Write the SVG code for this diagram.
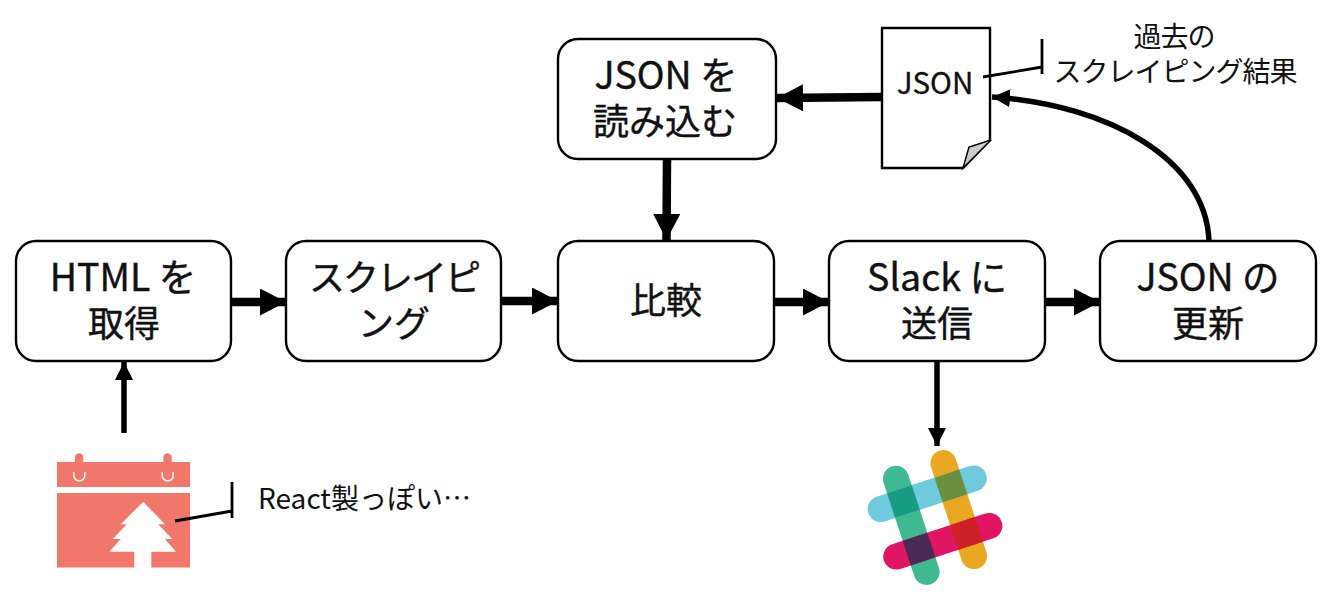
<svg xmlns="http://www.w3.org/2000/svg" width="1344" height="612" viewBox="0 0 1344 612">
<style>
text{font-family:"Noto Sans CJK JP","Noto Sans",sans-serif;fill:#111;text-anchor:middle}
.t{font-size:36px;stroke:#111;stroke-width:.4px}
.l{font-size:37.500px}
.s{font-size:28px;letter-spacing:-1px}
.box{fill:#fff;stroke:#000;stroke-width:2.400}
.thick{fill:none;stroke:#000;stroke-width:8.500}
.mid{fill:none;stroke:#000;stroke-width:5.500}
.thin{fill:none;stroke:#000;stroke-width:2.800}
.cal{fill:#f1776b}
</style>
<defs>
<marker id="ah" markerUnits="userSpaceOnUse" markerWidth="28" markerHeight="28" refX="26" refY="13.500" orient="auto"><path d="M0 0L26 13.500L0 27Z" fill="#000"/></marker>
<marker id="ah2" markerUnits="userSpaceOnUse" markerWidth="20" markerHeight="20" refX="18" refY="9" orient="auto"><path d="M0 0L18 9L0 18Z" fill="#000"/></marker>
</defs>
<g id="connectors">
<path class="thick" d="M231 302H286" marker-end="url(#ah)"/>
<path class="thick" d="M502 301H558" marker-end="url(#ah)"/>
<path class="thick" d="M774 302H829" marker-end="url(#ah)"/>
<path class="thick" d="M1045 302H1100" marker-end="url(#ah)"/>
<path class="thick" d="M667 159L666.500 240" marker-end="url(#ah)"/>
<path class="thick" d="M882 97L777 98" marker-end="url(#ah)"/>
<path class="mid" d="M1209 241C1206 160 1110 105 992 97" marker-end="url(#ah2)"/>
<path class="mid" d="M124 433V362" marker-end="url(#ah2)"/>
<path class="mid" d="M937 361V446" marker-end="url(#ah2)"/>
</g>
<g id="n-html"><rect class="box" x="16" y="241" width="215" height="120" rx="20"/><text class="t"><tspan class="l" x="123" y="291">HTML を</tspan><tspan x="124" y="337">取得</tspan></text></g>
<g id="n-scrape"><rect class="box" x="286" y="241" width="215" height="120" rx="20"/><text class="t"><tspan x="394" y="291" letter-spacing="-2">スクレイピ</tspan><tspan x="394" y="337">ング</tspan></text></g>
<g id="n-compare"><rect class="box" x="558" y="241" width="216" height="120" rx="20"/><text class="t" x="666" y="314">比較</text></g>
<g id="n-slack"><rect class="box" x="829" y="241" width="216" height="120" rx="20"/><text class="t"><tspan class="l" x="937" y="291">Slack に</tspan><tspan x="937" y="337">送信</tspan></text></g>
<g id="n-update"><rect class="box" x="1100" y="241" width="216" height="120" rx="20"/><text class="t"><tspan class="l" x="1208" y="291">JSON の</tspan><tspan x="1208" y="337">更新</tspan></text></g>
<g id="n-load"><rect class="box" x="558" y="39" width="218" height="120" rx="20"/><text class="t"><tspan class="l" x="666" y="89">JSON を</tspan><tspan x="665" y="135">読み込む</tspan></text></g>
<g id="n-json">
<path d="M882 28H990V140L963 168H882Z" fill="#fff" stroke="#000" stroke-width="2.400"/>
<path d="M963 168L969 147L991 140Z" fill="#ccc" stroke="#000" stroke-width="1.500"/>
<text x="935" y="94" font-size="29.500" stroke="#111" stroke-width=".3">JSON</text>
</g>
<g id="n-json-note">
<path class="thin" d="M983 77L1042 67M1042 39V74"/>
<text class="s"><tspan x="1174" y="47">過去の</tspan><tspan x="1175" y="82">スクレイピング結果</tspan></text>
</g>
<g id="n-calendar">
<path class="cal" d="M57 462H75V457.500a4.150 4.150 0 0 1 8.300 0V462H163.400V457.500a4.150 4.150 0 0 1 8.300 0V462H190V487H57Z"/>
<path d="M73.800 472V475.500a5.500 5.500 0 0 0 11 0V472M162.200 472V475.500a5.500 5.500 0 0 0 11 0V472" fill="none" stroke="#fff" stroke-width="1.500"/>
<path class="cal" d="M57 493H190V567.500H151.300V551.700H176L165 539H172.300L158.300 524.300H165L143.300 501.700L120.700 524.300H126.700L112.700 539H120.700L109.300 551.700H134.300V567.500H57Z"/>
</g>
<g id="n-react-note">
<path class="thin" d="M175 521L232 511M232 482V518"/>
<text x="364.500" y="509" font-size="28">React製っぽい…</text>
</g>
<g id="n-slack-logo" transform="translate(935 517.500) rotate(-18.200)">
<rect x="-38" y="-62" width="26" height="124" rx="13" fill="#3eb991"/>
<rect x="12" y="-62" width="26" height="124" rx="13" fill="#e9a820"/>
<rect x="-62" y="-38" width="124" height="26" rx="13" fill="#6ecadc"/>
<rect x="-62" y="12" width="124" height="26" rx="13" fill="#e01563"/>
<rect x="-38" y="-38" width="26" height="26" fill="#189b83"/>
<rect x="12" y="-38" width="26" height="26" fill="#6a8f3e"/>
<rect x="-38" y="12" width="26" height="26" fill="#4d2a56"/>
<rect x="12" y="12" width="26" height="26" fill="#cf2027"/>
</g>
</svg>
